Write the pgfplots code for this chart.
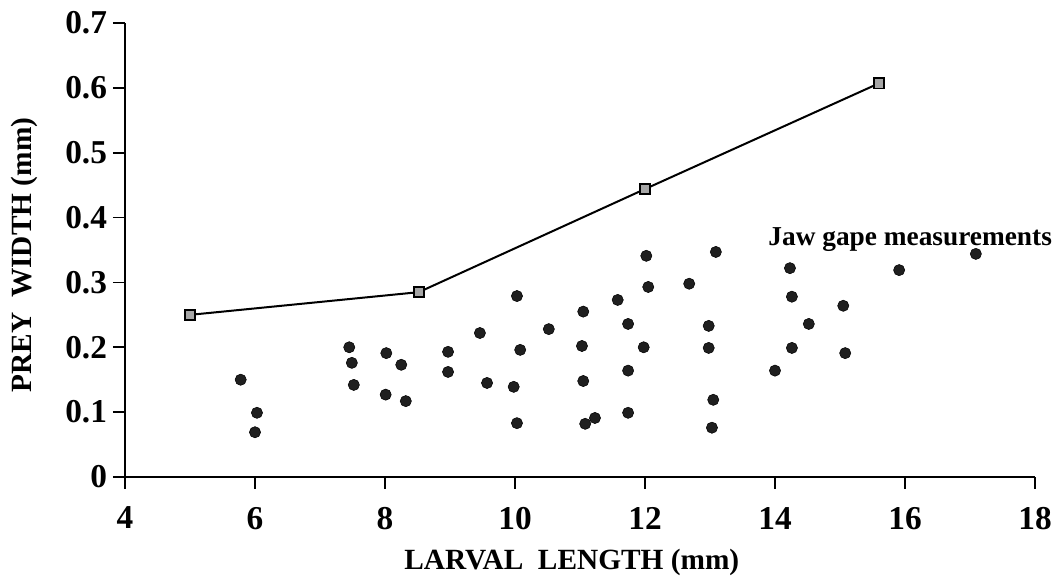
\documentclass[border=0pt]{standalone}
\usepackage{fontspec}
\setmainfont{Liberation Serif}
\usepackage{pgfplots}
\pgfplotsset{compat=1.18}
\begin{document}
\begin{tikzpicture}
\begin{axis}[
  scale only axis,
  width=682.5pt, height=340.5pt,
  xmin=4, xmax=18, ymin=0, ymax=0.7,
  axis x line=bottom, axis y line=left,
  axis line style={-, line width=1.5pt},
  xtick={4,6,...,18},
  ytick={0,0.1,...,0.7},
  xtick align=outside, ytick align=outside,
  major tick length=9pt,
  every tick/.style={line width=1.2pt, black},
  minor tick num=0,
  /pgf/number format/assume math mode=true,
  /pgf/number format/fixed,
  tick label style={font=\fontsize{25}{28}\selectfont\bfseries},
  yticklabel style={xshift=-1pt},
  xticklabel style={yshift=-10pt},
  xlabel={LARVAL\ \ LENGTH (mm)},
  ylabel={PREY\ \ WIDTH (mm)},
  label style={font=\fontsize{22}{26}\selectfont\bfseries},
  xlabel style={at={(axis description cs:0.491,0)}, anchor=center, yshift=-64pt},
  ylabel style={at={(axis description cs:-0.11,0.489)}, anchor=center},
  clip=false,
]
\addplot[black, line width=1.5pt, mark=square*, mark size=3.8pt,
  mark options={fill=gray!70, draw=black, line width=1.3pt}]
  coordinates {(5,0.25) (8.52,0.285) (12,0.444) (15.6,0.607)};
\addplot[only marks, mark=*, mark size=4.2pt,
  mark options={fill=black!88, draw=black}]
  coordinates {
  (5.78,0.150) (6.03,0.099) (6.0,0.069)
  (7.45,0.200) (7.49,0.176) (7.52,0.142)
  (8.02,0.191) (8.25,0.173) (8.01,0.127) (8.32,0.117)
  (8.97,0.193) (8.97,0.162)
  (12.02,0.341) (13.09,0.347) (10.03,0.279) (12.05,0.293) (12.68,0.298)
  (11.58,0.273) (11.05,0.255) (9.46,0.222) (10.52,0.228) (11.74,0.236)
  (12.98,0.233) (10.08,0.196) (11.03,0.202) (11.98,0.200) (12.98,0.199)
  (9.57,0.145) (9.98,0.139) (11.05,0.148) (11.74,0.164) (13.05,0.119)
  (10.03,0.083) (11.08,0.082) (11.23,0.091) (11.74,0.099) (13.03,0.076)
  (17.09,0.344) (15.91,0.319) (14.23,0.322) (14.26,0.278) (15.05,0.264)
  (14.52,0.236) (14.26,0.199) (15.08,0.191) (14.0,0.164)
  };
\node[font=\fontsize{20.5}{24}\selectfont\bfseries] at (axis cs:16.08,0.366) {Jaw gape measurements};
\end{axis}
\path ([shift={(-93.75pt,-74.25pt)}]current axis.south west) rectangle ([shift={(21.75pt,17.25pt)}]current axis.north east);
\end{tikzpicture}
\end{document}
